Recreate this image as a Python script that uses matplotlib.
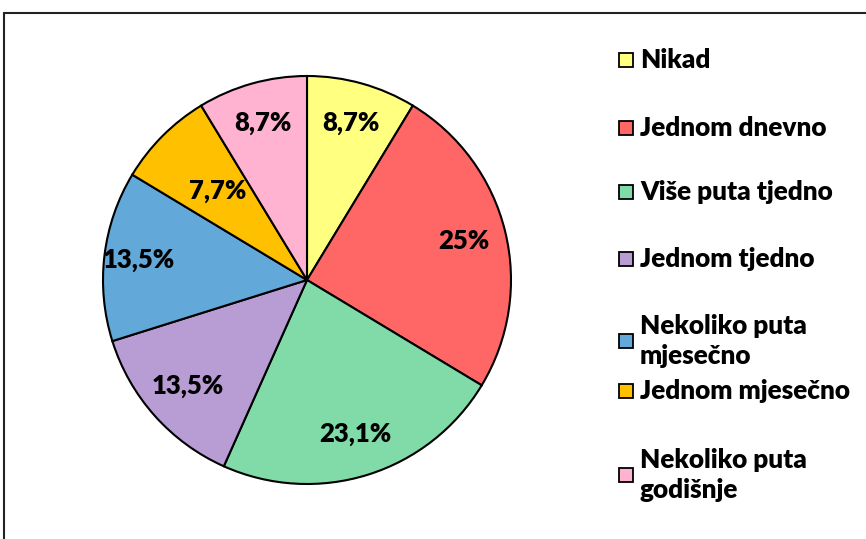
import matplotlib
matplotlib.use("Agg")
import matplotlib.pyplot as plt
from matplotlib.patches import Rectangle
import numpy as np

categories = ["Nikad", "Jednom dnevno", "Više puta tjedno", "Jednom tjedno",
              "Nekoliko puta\nmjesečno", "Jednom mjesečno", "Nekoliko puta\ngodišnje"]
values = [8.7, 25, 23.1, 13.5, 13.5, 7.7, 8.7]
value_labels = ["8,7%", "25%", "23,1%", "13,5%", "13,5%", "7,7%", "8,7%"]
colors = ["#FFFF80", "#FF6666", "#80DBA8", "#B89CD4", "#62A8D8", "#FFC000", "#FFB3D1"]
label_radius = [0.80, 0.79, 0.79, 0.78, 0.83, 0.62, 0.80]

plt.rcParams['font.family'] = ['Lato', 'DejaVu Sans']
W, H = 866, 539
fig = plt.figure(figsize=(W/100, H/100), dpi=100)

# outer frame
fig.patches.append(Rectangle((4/W, -0.1), 1.2, 1 - 13/H + 0.1, transform=fig.transFigure,
                             fill=False, edgecolor="#222222", linewidth=1.5))

cx, cy, r = 307, 280, 204
ax = fig.add_axes([(cx - r)/W, (H - cy - r)/H, 2*r/W, 2*r/H])
wedges, _ = ax.pie(values, colors=colors, startangle=90, counterclock=False,
                   wedgeprops=dict(edgecolor="black", linewidth=1.5))
ax.set_xlim(-1, 1); ax.set_ylim(-1, 1)
ax.set_aspect('equal')

for w, lab, rr in zip(wedges, value_labels, label_radius):
    ang = np.deg2rad((w.theta1 + w.theta2) / 2)
    ax.text(rr*np.cos(ang), rr*np.sin(ang), lab, ha='center', va='center',
            fontsize=18.5, fontweight='heavy', color='black')

# legend
leg_y = [60, 128, 192, 259, 341, 391, 475]
for cat, col, y in zip(categories, colors, leg_y):
    fig.patches.append(Rectangle((619/W, 1 - (y + 7)/H), 14/W, 14/H, transform=fig.transFigure,
                                 facecolor=col, edgecolor="black", linewidth=1.3))
    fig.text(640/W, 1 - y/H, cat, ha='left', va='center', fontsize=18.8,
             fontweight='heavy', linespacing=1.35)

fig.savefig("out.png", dpi=100)
